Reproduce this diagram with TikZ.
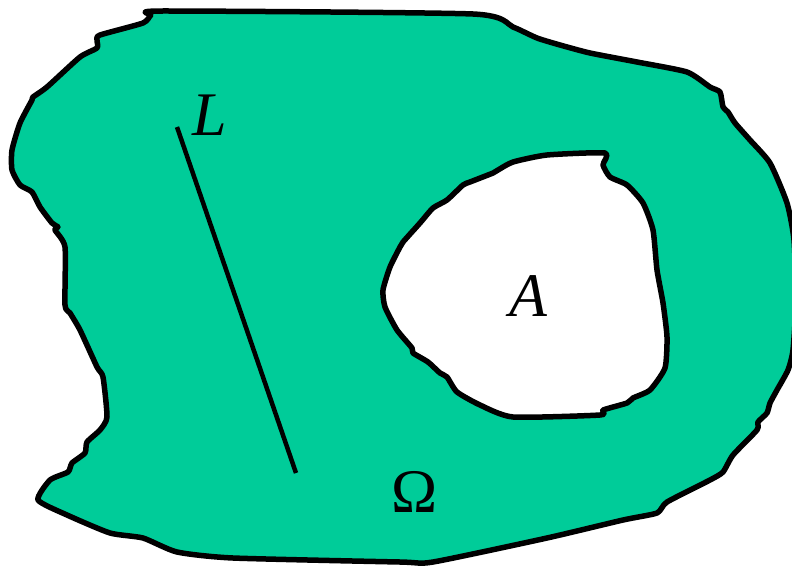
\documentclass[tikz,border=0pt]{standalone}
\usepackage{fontspec}
\setmainfont{Liberation Serif}
\definecolor{regiongreen}{RGB}{0,204,153}
\tikzset{
  outline/.style={draw=black, line width=5.5pt, line join=round},
  lbl/.style={inner sep=0pt, font=\fontsize{62}{62}\selectfont}
}
\begin{document}
\begin{tikzpicture}[x=1pt,y=-1pt]
\useasboundingbox (0,0) rectangle (792,565);
% outer region Omega
\draw[outline, fill=regiongreen] plot[smooth cycle, tension=0.35] coordinates {
(162,11) (473,14) (513,27) (537,38) (560,45) (590,53) (637,62) (687,72) (710,87) (720,92) (723,107) (728,112) (735,123) (750,140) (770,163) (787,203) (794,240) (796,300) (793,350) (788,370) (777,390) (770,403) (767,413) (758,422) (757,430) (733,455) (723,472) (710,480) (667,502) (657,513) (623,520) (547,538) (433,562) (400,562) (233,558) (177,552) (143,538) (110,533) (67,515) (38,500) (50,480) (68,472) (72,463) (85,453) (87,442) (100,430) (107,417) (103,377) (97,367) (80,330) (70,313) (65,305) (65,247) (55,230) (58,227) (52,223) (40,207) (32,192) (20,185) (12,170) (12,150) (20,123) (32,100) (33,97) (47,87) (80,57) (97,48) (97,40) (100,35) (143,23) (151,15)};
% hole A
\draw[outline, fill=white] plot[smooth cycle, tension=0.35] coordinates {
(605,153) (603,165) (610,177) (627,185) (643,203) (653,230) (657,270) (663,303) (667,337) (665,368) (650,390) (633,398) (627,403) (603,410) (600,415) (513,417) (480,405) (457,392) (447,377) (440,373) (428,362) (413,353) (412,348) (397,330) (385,307) (383,290) (390,267) (400,247) (403,242) (420,223) (433,208) (447,200) (463,185) (470,182) (493,173) (498,170) (513,162) (547,155)};
% line L
\coordinate (l1) at (177,127);
\coordinate (l2) at (296,473);
\draw[line width=4.5pt] (l1) -- (l2);
\node[lbl] (labL) at (210,115) {\itshape L};
\node[lbl] (labA) at (528,296) {\itshape A};
\node[lbl] (labO) at (415,492) {Ω};
\end{tikzpicture}
\end{document}
